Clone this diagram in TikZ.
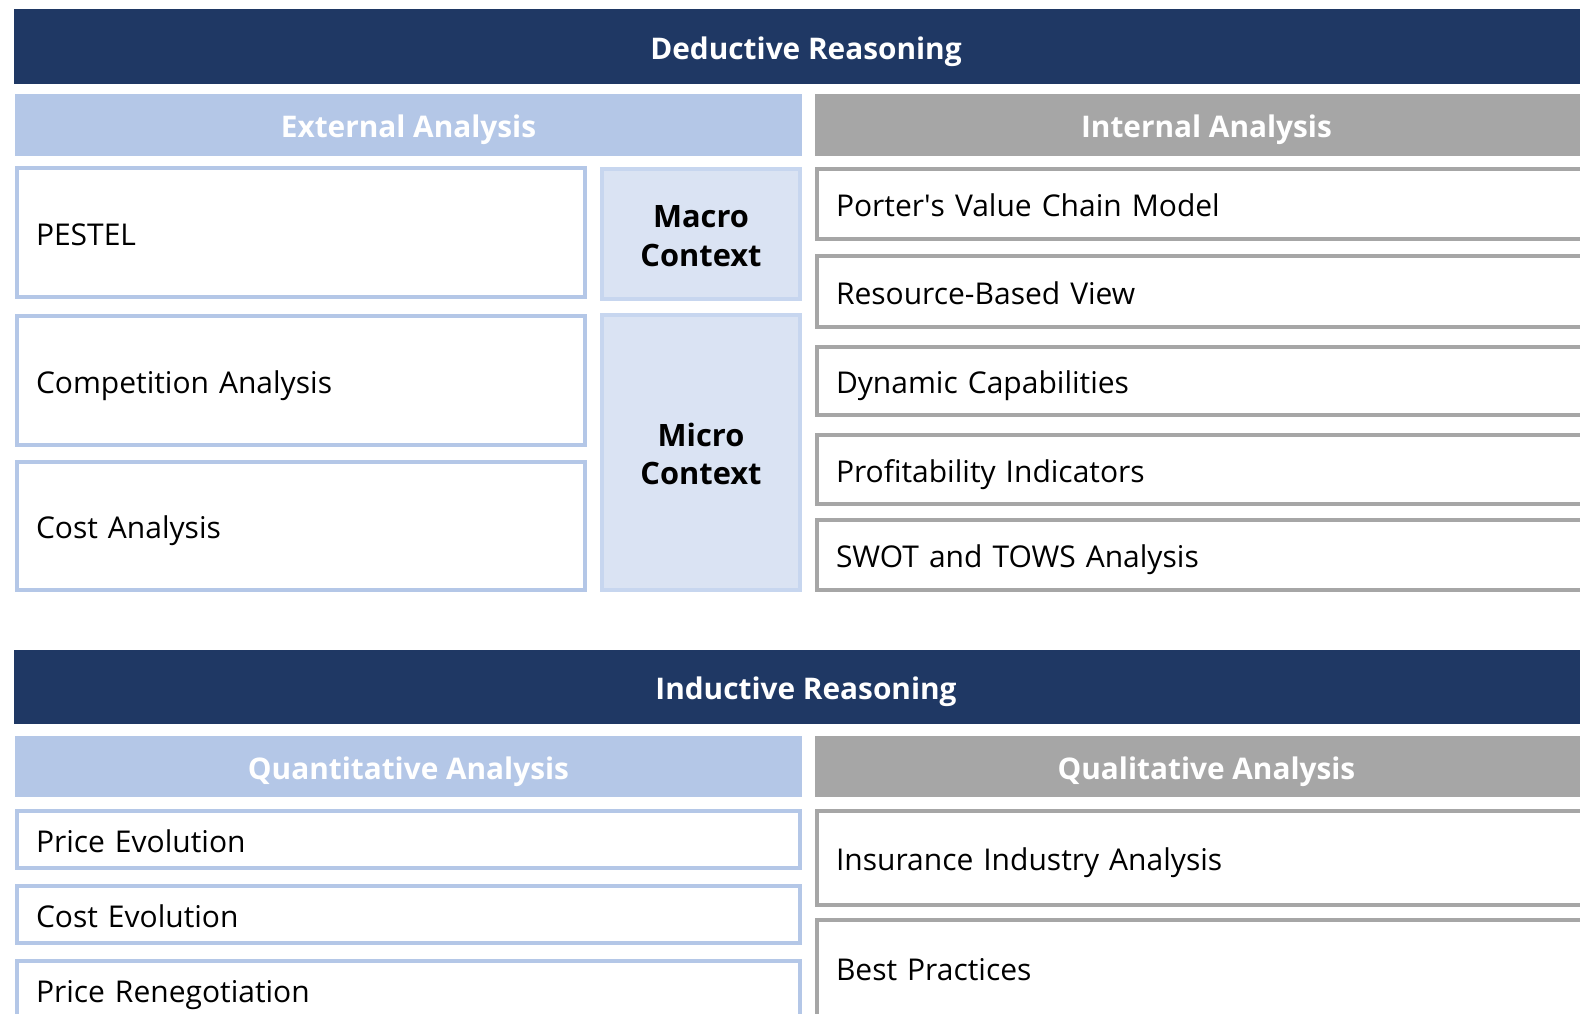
\documentclass[tikz,border=0pt]{standalone}
\usepackage{fontspec}
\setmainfont{Open Sans}
\definecolor{navy}{HTML}{1F3864}
\definecolor{paleblue}{HTML}{B4C7E7}
\definecolor{ctxfill}{HTML}{DAE3F3}
\definecolor{ctxline}{HTML}{C7D6EF}
\definecolor{midgray}{HTML}{A6A6A6}
\tikzset{
  x=1pt, y=-1pt,
  every node/.style={inner sep=0pt, outer sep=0pt},
  bar/.style={rectangle, anchor=north west, text height=25.2pt, text depth=0pt,
    font=\fontsize{29.8}{34}\selectfont\bfseries, text=white},
  topbar/.style={bar, fill=navy},
  extbar/.style={bar, fill=paleblue},
  intbar/.style={bar, fill=midgray},
  item/.style={rectangle, anchor=north west, fill=white, line width=4pt,
    inner xsep=19pt, align=left, text height=25.4pt, text depth=0pt,
    font=\fontsize{30}{35}\selectfont},
  blueitem/.style={item, draw=paleblue},
  grayitem/.style={item, draw=midgray},
  ctxbox/.style={rectangle, anchor=north west, fill=ctxfill, draw=ctxline, line width=4pt,
    align=center, text height=64pt, text depth=0pt,
    font=\fontsize{30.8}{38.3}\selectfont\bfseries}
}
\begin{document}
\begin{tikzpicture}
\useasboundingbox (0,0) rectangle (1580,1014);
\clip (0,0) rectangle (1580,1014);

% ---------- Deductive reasoning ----------
\node[topbar, minimum width=1584pt, minimum height=75pt] (ded) at (14,9) {Deductive Reasoning};
\node[extbar, minimum width=787pt, minimum height=62pt] (ext) at (15,94) {External Analysis};
\node[intbar, minimum width=783pt, minimum height=62pt] (int) at (815,94) {Internal Analysis};

% external analysis items
\node[blueitem, minimum width=568pt, minimum height=129pt, text width=530pt] (pestel) at (17,168) {PESTEL};
\node[blueitem, minimum width=568pt, minimum height=129pt, text width=530pt] (comp) at (17,316) {Competition Analysis};
\node[blueitem, minimum width=568pt, minimum height=128pt, text width=530pt] (cost) at (17,462) {Cost Analysis};

% context labels
\node[ctxbox, minimum width=198pt, minimum height=130pt] (macro) at (602,169) {Macro\\Context};
\node[ctxbox, minimum width=198pt, minimum height=275pt] (micro) at (602,315) {Micro\\Context};

% internal analysis items
\node[grayitem, minimum width=779pt, minimum height=70pt, text width=741pt] (porter) at (817,169) {Porter\textquotesingle s Value Chain Model};
\node[grayitem, minimum width=779pt, minimum height=71pt, text width=741pt] (rbv) at (817,256) {Resource-Based View};
\node[grayitem, minimum width=779pt, minimum height=68pt, text width=741pt] (dyn) at (817,347) {Dynamic Capabilities};
\node[grayitem, minimum width=779pt, minimum height=69pt, text width=741pt] (prof) at (817,435) {Profitability Indicators};
\node[grayitem, minimum width=779pt, minimum height=70pt, text width=741pt] (swot) at (817,520) {SWOT and TOWS Analysis};

% ---------- Inductive reasoning ----------
\node[topbar, minimum width=1584pt, minimum height=74pt] (ind) at (14,650) {Inductive Reasoning};
\node[extbar, minimum width=787pt, minimum height=61pt] (quant) at (15,736) {Quantitative Analysis};
\node[intbar, minimum width=783pt, minimum height=61pt] (qual) at (815,736) {Qualitative Analysis};

% quantitative items
\node[blueitem, minimum width=783pt, minimum height=57pt, text width=745pt] (price) at (17,811) {Price Evolution};
\node[blueitem, minimum width=783pt, minimum height=57pt, text width=745pt] (costev) at (17,886) {Cost Evolution};
\node[blueitem, minimum width=783pt, minimum height=57pt, text width=745pt] (reneg) at (17,961) {Price Renegotiation};

% qualitative items
\node[grayitem, minimum width=779pt, minimum height=94pt, text width=741pt] (insur) at (817,811) {Insurance Industry Analysis};
\node[grayitem, minimum width=779pt, minimum height=96pt, text width=741pt] (best) at (817,920) {Best Practices};
\end{tikzpicture}
\end{document}
